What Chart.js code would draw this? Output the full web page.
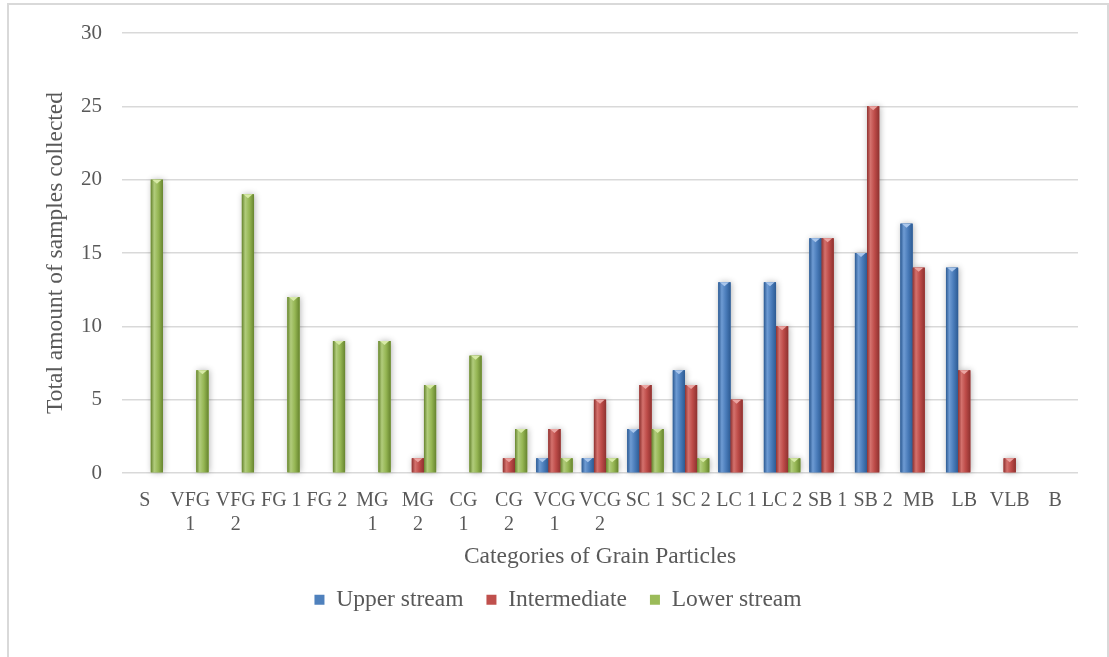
<!DOCTYPE html>
<html>
<head>
<meta charset="utf-8">
<script src="https://cdn.jsdelivr.net/npm/chart.js@4.4.1/dist/chart.umd.min.js"></script>
<style>
  html, body { margin: 0; padding: 0; background: #fff; overflow: hidden; }
  #frame { position: absolute; left: 7px; top: 3px; width: 1098px; height: 720px; border: 2px solid #d9d9d9; }
  #wrap { position: absolute; left: 0; top: 0; width: 1109px; height: 657px; }
</style>
</head>
<body>
<div id="frame"></div>
<div id="wrap"><canvas id="grain"></canvas></div>
<script>
const categories = ['S', ['VFG', '1'], ['VFG', '2'], 'FG 1', 'FG 2', ['MG', '1'], ['MG', '2'], ['CG', '1'], ['CG', '2'],
  ['VCG', '1'], ['VCG', '2'], 'SC 1', 'SC 2', 'LC 1', 'LC 2', 'SB 1', 'SB 2', 'MB', 'LB', 'VLB', 'B']
const upperStream  = [0, 0, 0, 0, 0, 0, 0, 0, 0, 1, 1, 3, 7, 13, 13, 16, 15, 17, 14, 0, 0]
const intermediate = [0, 0, 0, 0, 0, 0, 1, 0, 1, 3, 5, 6, 6, 5, 10, 16, 25, 14, 7, 1, 0]
const lowerStream  = [20, 7, 19, 12, 9, 9, 6, 8, 3, 1, 1, 3, 1, 0, 1, 0, 0, 0, 0, 0, 0]
const yTicks = [0, 5, 10, 15, 20, 25, 30]

// edge, highlight, middle, top facet
const shades = [
  ['#2d5b93', '#6e9bd3', '#4a7cba', '#a9c6ec'],
  ['#8f3230', '#d4716d', '#bd4b48', '#eba5a2'],
  ['#67852f', '#b1cc7c', '#95b653', '#d7eaa6']
]

const bevel = {
  id: 'bevel',
  afterDatasetsDraw(chart) {
    const ctx = chart.ctx
    const bars = []
    chart.data.datasets.forEach((ds, i) => {
      chart.getDatasetMeta(i).data.forEach(bar => {
        const p = bar.getProps(['x', 'y', 'base', 'width'], true)
        if (p.base - p.y >= 1) bars.push([i, p])
      })
    })
    ctx.save()
    ctx.shadowColor = 'rgba(0,0,0,0.3)'
    ctx.shadowBlur = 6
    ctx.shadowOffsetX = 1
    ctx.shadowOffsetY = 0
    bars.forEach(([i, p]) => {
      ctx.fillStyle = shades[i][2]
      ctx.fillRect(p.x - p.width / 2, p.y, p.width, p.base - p.y)
    })
    ctx.restore()
    bars.forEach(([i, p]) => {
      const [edge, hi, mid, top] = shades[i]
      const l = p.x - p.width / 2, r = p.x + p.width / 2
      const g = ctx.createLinearGradient(l, 0, r, 0)
      g.addColorStop(0, edge)
      g.addColorStop(0.28, hi)
      g.addColorStop(0.62, mid)
      g.addColorStop(1, edge)
      ctx.fillStyle = g
      ctx.fillRect(l, p.y, p.width, p.base - p.y)
      const th = Math.min(4, (p.base - p.y) / 2)
      ctx.fillStyle = top
      ctx.beginPath()
      ctx.moveTo(l + 1.5, p.y)
      ctx.lineTo(r - 1.5, p.y)
      ctx.lineTo(p.x, p.y + th)
      ctx.closePath()
      ctx.fill()
    })
  }
}

const render = () => {
  new Chart(document.getElementById('grain'), {
    type: 'bar',
    data: {
      labels: categories,
      datasets: [
        { label: 'Upper stream', data: upperStream, backgroundColor: '#4f81bd', borderWidth: 0 },
        { label: 'Intermediate', data: intermediate, backgroundColor: '#c0504d', borderWidth: 0 },
        { label: 'Lower stream', data: lowerStream, backgroundColor: '#9bbb59', borderWidth: 0 }
      ]
    },
    options: {
      responsive: true,
      maintainAspectRatio: false,
      animation: false,
      layout: { padding: { left: 38, right: 31, top: 33, bottom: 35.5 } },
      datasets: { bar: { categoryPercentage: 0.8, barPercentage: 1 } },
      plugins: {
        tooltip: { enabled: false },
        legend: {
          position: 'bottom',
          labels: {
            boxWidth: 10, boxHeight: 10, padding: 23,
            color: '#595959',
            font: { family: 'Liberation Serif', size: 23.5 }
          }
        }
      },
      scales: {
        x: {
          grid: { display: false },
          border: { display: false },
          ticks: {
            color: '#595959', autoSkip: false, maxRotation: 0, padding: 8,
            font: { family: 'Liberation Serif', size: 20, lineHeight: 1.2 }
          },
          title: {
            display: true, text: 'Categories of Grain Particles', color: '#595959',
            padding: { top: 6, bottom: -6 },
            font: { family: 'Liberation Serif', size: 23.5 }
          },
          afterFit: s => { s.height = 92 }
        },
        y: {
          min: 0, max: 30,
          afterBuildTicks: s => { s.ticks = yTicks.map(v => ({ value: v })) },
          grid: { color: '#d9d9d9', lineWidth: 1.5, drawTicks: false },
          border: { display: false },
          ticks: {
            color: '#595959', padding: 20,
            font: { family: 'Liberation Serif', size: 21 }
          },
          title: {
            display: true, text: 'Total amount of samples collected', color: '#595959',
            padding: { top: 4, bottom: 4 },
            font: { family: 'Liberation Serif', size: 23.5 }
          },
          afterFit: s => { s.width = 84 }
        }
      }
    },
    plugins: [bevel]
  })
}

document.addEventListener('DOMContentLoaded', render)
</script>
</body>
</html>
